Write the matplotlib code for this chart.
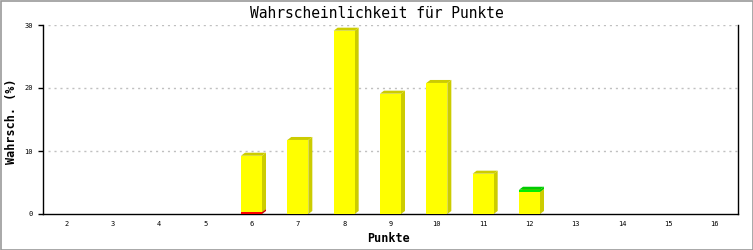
import matplotlib
matplotlib.use("Agg")
import matplotlib.pyplot as plt
from matplotlib.patches import Polygon, Rectangle

points = [2, 3, 4, 5, 6, 7, 8, 9, 10, 11, 12, 13, 14, 15, 16]
red_vals = [0, 0, 0, 0, 0.3, 0, 0, 0, 0, 0, 0, 0, 0, 0, 0]
yellow_vals = [0, 0, 0, 0, 8.95, 11.75, 29.1, 19.1, 20.8, 6.4, 3.5, 0, 0, 0, 0]
green_vals = [0, 0, 0, 0, 0, 0, 0, 0, 0, 0, 0.35, 0, 0, 0, 0]
yticks = [0, 10, 20, 30]

series = [
    (red_vals, "#ff0000", "#cc0000"),
    (yellow_vals, "#ffff00", "#cccc00"),
    (green_vals, "#00ee00", "#00cc00"),
]

W, H = 753, 250
fig = plt.figure(figsize=(W / 100, H / 100), dpi=100)
ax = fig.add_axes([43 / W, 1 - 214 / H, (738 - 43) / W, (214 - 25) / H])

xmin, xmax = 1.5, 16.5
ymin, ymax = 0, 30
ax.set_xlim(xmin, xmax)
ax.set_ylim(ymin, ymax)

px_x = (xmax - xmin) / (738 - 43)
px_y = (ymax - ymin) / (214 - 25)
dx = 4 * px_x
dy = 3 * px_y
bw = 21 * px_x

for gl in [10, 20, 30]:
    ax.plot([xmin + 5 * px_x, xmax], [gl, gl], color="#c0c0c0", lw=1,
            dashes=(1.5, 2.8), zorder=0.5)

bottoms = [0.0] * len(points)
for vals, c, dc in series:
    for i, (p, v) in enumerate(zip(points, vals)):
        if v <= 0:
            continue
        b = bottoms[i]
        t = b + v
        x0, x1 = p - bw / 2, p + bw / 2
        # side face
        ax.add_patch(Polygon([[x1, b], [x1 + dx, b + dy], [x1 + dx, t + dy], [x1, t]],
                             closed=True, facecolor=dc, edgecolor="none", zorder=2))
        # top face
        ax.add_patch(Polygon([[x0, t], [x0 + dx, t + dy], [x1 + dx, t + dy], [x1, t]],
                             closed=True, facecolor=dc, edgecolor="none", zorder=2))
        ax.bar(p, v, bottom=b, width=bw, color=c, edgecolor="none", zorder=3)
        bottoms[i] = t

mono = "DejaVu Sans Mono"
ax.set_xticks(points)
ax.set_xticklabels([str(p) for p in points], fontsize=5, family=mono)
ax.set_yticks(yticks)
ax.set_yticklabels([str(y) for y in yticks], fontsize=5, family=mono)
ax.tick_params(axis="x", length=0, pad=5)
ax.tick_params(axis="y", length=3.6, width=1, pad=3.5, color="black")

ax.spines["top"].set_visible(False)
for s in ["left", "bottom", "right"]:
    ax.spines[s].set_color("black")
    ax.spines[s].set_linewidth(1)

fig.text(0.5, 1 - 13 / H, "Wahrscheinlichkeit für Punkte", ha="center", va="center",
         fontsize=10.5, family=mono)
fig.text(389 / W, 1 - 239 / H, "Punkte", ha="center", va="center",
         fontsize=8.5, family=mono, fontweight="bold")
fig.text(12 / W, 1 - 121 / H, "Wahrsch. (%)", ha="center", va="center", rotation=90,
         fontsize=8.5, family=mono, fontweight="bold")

fig.patches.append(Rectangle((0.5 / W, 0.5 / H), 1 - 1 / W, 1 - 1 / H,
                             transform=fig.transFigure, fill=False,
                             edgecolor="#999999", lw=1.2))

fig.savefig("out.png", dpi=100)
